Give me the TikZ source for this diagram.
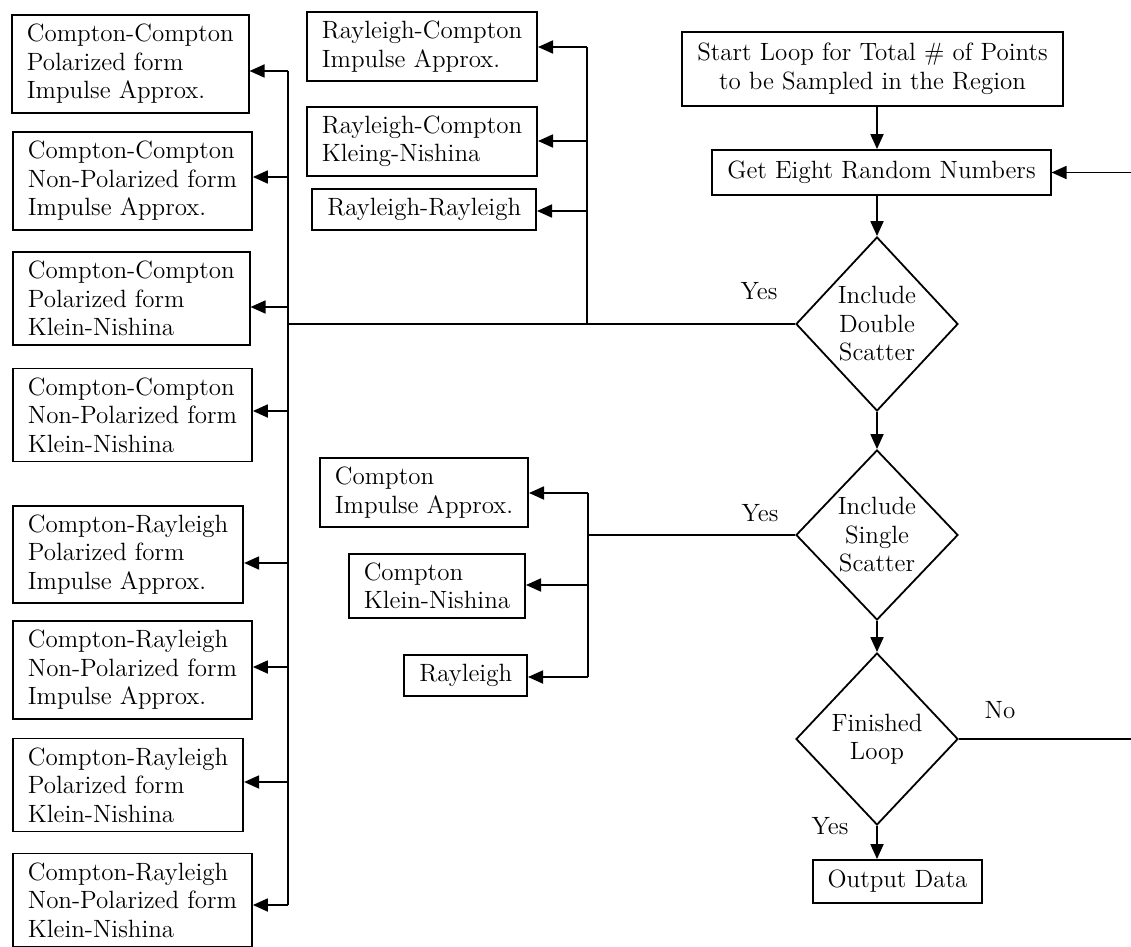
\documentclass[tikz,border=0pt]{standalone}
\usetikzlibrary{shapes.geometric,arrows.meta}
\pgfdeclarelayer{edgelayer}
\pgfdeclarelayer{nodelayer}
\pgfsetlayers{edgelayer,nodelayer,main}
\tikzset{font=\fontsize{12.5}{14.25}\selectfont}
\tikzstyle{none}=[inner sep=0pt]
\tikzstyle{box}=[draw,line width=0.9pt,fill=white,align=left,inner xsep=7.5pt,inner ysep=4.5pt]
\tikzstyle{cbox}=[box,align=center]
\tikzstyle{dmnd}=[diamond,draw,line width=0.9pt,fill=white,align=center,inner sep=0pt,minimum width=81pt,minimum height=87pt]
\tikzstyle{lbl}=[inner sep=0pt]
\tikzstyle{wire}=[line width=0.9pt]
\tikzstyle{arr}=[line width=0.9pt,-{Triangle[length=7.5pt,width=6.5pt]}]

\begin{document}
\begin{tikzpicture}[x=0.5pt,y=-0.5pt]
	\useasboundingbox (0,0) rectangle (1131,947);
	\begin{pgfonlayer}{nodelayer}
		\node [style=box, anchor=west] (0) at (11, 64) {Compton-Compton\\Polarized form\\Impulse Approx.};
		\node [style=box, anchor=west] (1) at (12, 181) {Compton-Compton\\Non-Polarized form\\Impulse Approx.};
		\node [style=box, anchor=west] (2) at (12, 298.5) {Compton-Compton\\Polarized form\\Klein-Nishina};
		\node [style=box, anchor=west] (3) at (12, 415) {Compton-Compton\\Non-Polarized form\\Klein-Nishina};
		\node [style=box, anchor=west] (4) at (12, 554.5) {Compton-Rayleigh\\Polarized form\\Impulse Approx.};
		\node [style=box, anchor=west] (5) at (12, 670) {Compton-Rayleigh\\Non-Polarized form\\Impulse Approx.};
		\node [style=box, anchor=west] (6) at (12, 785) {Compton-Rayleigh\\Polarized form\\Klein-Nishina};
		\node [style=box, anchor=west] (7) at (12, 900) {Compton-Rayleigh\\Non-Polarized form\\Klein-Nishina};
		\node [style=box, anchor=east] (8) at (538, 46.5) {Rayleigh-Compton\\Impulse Approx.};
		\node [style=box, anchor=east] (9) at (538, 141.5) {Rayleigh-Compton\\Kleing-Nishina};
		\node [style=box, anchor=east] (10) at (537, 209.5) {Rayleigh-Rayleigh};
		\node [style=box, anchor=east] (11) at (529, 492.5) {Compton\\Impulse Approx.};
		\node [style=box, anchor=east] (12) at (526, 586) {Compton\\Klein-Nishina};
		\node [style=box, anchor=east] (13) at (528, 675.5) {Rayleigh};
		\node [style=cbox, minimum width=180pt, minimum height=37pt] (14) at (872.5, 69) {Start Loop for Total \# of Points\\to be Sampled in the Region};
		\node [style=cbox, minimum width=167pt, minimum height=22.5pt] (15) at (881.5, 172.5) {Get Eight Random Numbers};
		\node [style=dmnd] (16) at (877, 324) {Include\\Double\\Scatter};
		\node [style=dmnd, minimum height=85pt] (17) at (877, 535) {Include\\Single\\Scatter};
		\node [style=dmnd, minimum height=86pt] (18) at (877, 739) {Finished\\Loop};
		\node [style=cbox, minimum width=83.5pt, minimum height=21.5pt] (19) at (897.5, 881.5) {Output Data};
		\node [style=lbl] (20) at (759, 291) {Yes};
		\node [style=lbl] (21) at (760, 513) {Yes};
		\node [style=lbl] (22) at (1000, 710) {No};
		\node [style=lbl] (23) at (830, 826) {Yes};
		\node [style=none] (30) at (288, 71) {};
		\node [style=none] (31) at (288, 177) {};
		\node [style=none] (32) at (288, 307) {};
		\node [style=none] (33) at (288, 411) {};
		\node [style=none] (34) at (288, 563) {};
		\node [style=none] (35) at (288, 667) {};
		\node [style=none] (36) at (288, 782) {};
		\node [style=none] (37) at (288, 905) {};
		\node [style=none] (38) at (288, 324) {};
		\node [style=none] (40) at (587, 47) {};
		\node [style=none] (41) at (587, 141) {};
		\node [style=none] (42) at (587, 211) {};
		\node [style=none] (43) at (587, 324) {};
		\node [style=none] (44) at (588, 493) {};
		\node [style=none] (45) at (588, 585) {};
		\node [style=none] (46) at (588, 677) {};
		\node [style=none] (47) at (588, 535) {};
		\node [style=none] (48) at (1131, 739) {};
		\node [style=none] (49) at (1131, 172.5) {};
	\end{pgfonlayer}
	\begin{pgfonlayer}{edgelayer}
		\draw [style=wire] (30.center) to (37.center);
		\draw [style=wire] (16.west) to (38.center);
		\draw [style=wire] (40.center) to (43.center);
		\draw [style=wire] (44.center) to (46.center);
		\draw [style=wire] (17.west) to (47.center);
		\draw [style=wire] (18.east) to (48.center);
		\draw [style=arr] (30.center) to (30 -| 0.east);
		\draw [style=arr] (31.center) to (31 -| 1.east);
		\draw [style=arr] (32.center) to (32 -| 2.east);
		\draw [style=arr] (33.center) to (33 -| 3.east);
		\draw [style=arr] (34.center) to (34 -| 4.east);
		\draw [style=arr] (35.center) to (35 -| 5.east);
		\draw [style=arr] (36.center) to (36 -| 6.east);
		\draw [style=arr] (37.center) to (37 -| 7.east);
		\draw [style=arr] (40.center) to (40 -| 8.east);
		\draw [style=arr] (41.center) to (41 -| 9.east);
		\draw [style=arr] (42.center) to (42 -| 10.east);
		\draw [style=arr] (44.center) to (44 -| 11.east);
		\draw [style=arr] (45.center) to (45 -| 12.east);
		\draw [style=arr] (46.center) to (46 -| 13.east);
		\draw [style=arr] (49.center) to (15.east);
		\draw [style=arr] (16.north |- 14.south) to (16.north |- 15.north);
		\draw [style=arr] (16.north |- 15.south) to (16.north);
		\draw [style=arr] (16.south) to (17.north);
		\draw [style=arr] (17.south) to (18.north);
		\draw [style=arr] (18.south) to (18.south |- 19.north);
	\end{pgfonlayer}
\end{tikzpicture}
\end{document}
